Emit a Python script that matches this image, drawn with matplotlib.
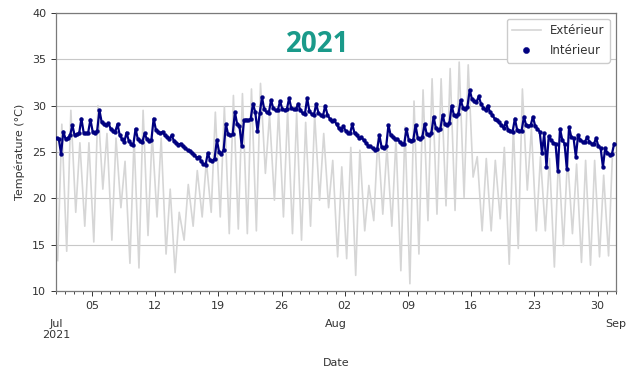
import matplotlib
matplotlib.use("Agg")
import matplotlib.pyplot as plt
import matplotlib.dates as mdates
import matplotlib.transforms as mtransforms
import numpy as np
import pandas as pd

# Days covered: 1 July -> 31 August 2021
days = pd.date_range("2021-07-01", periods=62, freq="D")

# Outdoor temperature: daily minimum (early morning) and maximum (afternoon), degC
ext_min = [13.3, 14.3, 18.5, 17.0, 15.3, 21.0, 15.5, 19.0, 13.0, 12.5,
           16.0, 18.0, 14.0, 12.0, 15.5, 17.0, 18.0, 18.5, 18.0, 16.2,
           16.7, 16.2, 16.5, 22.7, 19.8, 18.0, 16.2, 15.5, 17.0, 19.8,
           19.0, 13.7, 13.5, 11.7, 16.5, 17.6, 18.3, 17.0, 12.2, 10.8,
           14.0, 17.6, 18.3, 19.2, 18.7, 20.1, 22.3, 16.5, 16.5, 17.8,
           12.9, 14.6, 20.9, 16.5, 16.5, 12.6, 14.9, 16.2, 13.1, 12.8,
           13.7, 13.8]
ext_max = [28.0, 29.5, 26.0, 26.0, 30.0, 27.0, 26.5, 24.0, 26.5, 29.5,
           27.0, 26.5, 21.0, 18.5, 21.5, 23.0, 24.0, 29.3, 29.9, 31.1,
           31.3, 31.8, 32.4, 29.0, 29.5, 29.5, 29.2, 28.2, 29.0, 27.0,
           24.1, 23.4, 25.5, 25.2, 21.4, 26.6, 25.5, 26.4, 27.7, 30.5,
           31.7, 32.9, 32.9, 34.0, 34.7, 34.4, 24.5, 24.3, 24.1, 25.5,
           27.7, 31.8, 27.5, 24.5, 24.3, 24.5, 24.5, 23.7, 24.1, 24.1,
           22.5, 25.5]
ext_hours = [5, 16]

# Indoor temperature: four readings per day (02h, 08h, 14h, 20h), degC
int_vals = [
    [26.5, 26.4, 24.8, 27.2], [26.4, 26.5, 26.8, 27.9], [26.8, 26.9, 27.0, 28.6],
    [27.1, 27.0, 27.1, 28.5], [27.2, 27.1, 27.3, 29.5], [28.2, 28.0, 27.9, 28.1],
    [27.5, 27.3, 27.2, 28.0], [26.8, 26.4, 26.1, 27.1], [26.2, 25.9, 25.8, 27.5],
    [26.4, 26.2, 26.1, 27.0], [26.4, 26.2, 26.3, 28.6], [27.4, 27.2, 27.0, 27.2],
    [26.8, 26.6, 26.4, 26.8], [26.2, 26.0, 25.8, 25.9], [25.6, 25.4, 25.2, 25.1],
    [24.9, 24.7, 24.4, 24.5], [24.0, 23.7, 23.6, 24.9], [24.1, 24.0, 24.3, 26.3],
    [25.0, 24.8, 25.2, 28.0], [26.9, 26.8, 26.9, 29.3], [28.0, 27.8, 25.7, 28.4],
    [28.5, 28.4, 28.6, 30.2], [29.3, 27.3, 29.2, 30.9], [29.6, 29.3, 29.2, 30.6],
    [29.7, 29.5, 29.5, 30.5], [29.6, 29.5, 29.6, 30.8], [29.7, 29.6, 29.6, 30.2],
    [29.5, 29.2, 29.1, 30.8], [29.4, 29.1, 29.0, 30.2], [29.2, 29.0, 28.9, 30.0],
    [29.0, 28.6, 28.3, 28.4], [28.0, 27.6, 27.4, 27.8], [27.3, 27.1, 27.0, 28.0],
    [27.0, 26.8, 26.5, 26.6], [26.3, 26.0, 25.7, 25.6], [25.4, 25.2, 25.3, 26.8],
    [25.5, 25.4, 25.6, 27.9], [26.8, 26.6, 26.4, 26.4], [26.1, 25.9, 25.9, 27.5],
    [26.3, 26.2, 26.3, 27.9], [26.5, 26.4, 26.6, 28.0], [26.9, 26.8, 27.0, 28.8],
    [27.6, 27.4, 27.5, 29.0], [28.0, 27.9, 28.1, 30.0], [29.0, 28.9, 29.1, 30.6],
    [29.8, 29.6, 29.9, 31.7], [30.7, 30.5, 30.4, 31.0], [30.2, 29.8, 29.5, 30.0],
    [29.3, 29.0, 28.6, 28.4], [28.2, 27.9, 27.6, 28.2], [27.4, 27.3, 27.2, 28.6],
    [27.4, 27.3, 27.3, 28.8], [27.9, 27.8, 27.9, 28.8], [27.8, 27.5, 27.2, 24.9],
    [27.0, 23.4, 26.7, 26.3], [26.0, 25.9, 23.0, 27.5], [26.3, 25.9, 23.2, 27.7],
    [26.6, 26.5, 24.5, 26.8], [26.3, 26.1, 26.1, 26.6], [26.1, 25.9, 25.9, 26.5],
    [25.6, 25.4, 23.4, 25.4], [24.9, 24.7, 24.8, 25.9],
]
int_hours = [2, 8, 14, 20]

yticks = [10, 15, 20, 25, 30, 35, 40]
month_labels = [("2021-07-01", "Jul\n2021"), ("2021-08-01", "Aug"), ("2021-09-01", "Sep")]

# build time-indexed series
ext_time = [d + pd.Timedelta(hours=h) for d in days for h in ext_hours]
ext_temp = [v for pair in zip(ext_min, ext_max) for v in pair]
int_time = [d + pd.Timedelta(hours=h) for d in days for h in int_hours]
int_temp = [v for row in int_vals for v in row]

navy = "#000080"

fig = plt.figure(figsize=(6.27, 3.69), dpi=100)
ax = fig.add_axes([0.089, 0.211, 0.893, 0.754])

ax.plot(ext_time, ext_temp, color="#d6d6d6", lw=1.2, label="Extérieur", zorder=2)
# dense indoor readings merge into a thick dotted trace
ax.plot(int_time, int_temp, color=navy, lw=1.6, zorder=3)
ax.plot(int_time, int_temp, ls="none", marker="o", ms=2.8, mec=navy,
        mfc=navy, mew=0.3, label="Intérieur", zorder=4)

ax.set_xlim(pd.Timestamp("2021-07-01"), pd.Timestamp("2021-09-01"))
ax.set_ylim(10, 40)
ax.set_yticks(yticks)
ax.yaxis.grid(True, color="#c8c8c8", lw=0.8)
ax.set_axisbelow(True)

ax.xaxis.set_major_locator(mdates.WeekdayLocator(byweekday=mdates.MO))
ax.xaxis.set_major_formatter(mdates.DateFormatter("%d"))
ax.xaxis.set_minor_locator(mdates.DayLocator())
ax.tick_params(axis="both", labelsize=8, colors="#333333", length=3.5, width=0.7)
ax.tick_params(axis="x", which="minor", length=2, width=0.5)

for sp in ax.spines.values():
    sp.set_color("#7a7a7a")
    sp.set_linewidth(0.9)

trans = mtransforms.blended_transform_factory(ax.transData, ax.transAxes)
for date, lab in month_labels:
    ax.text(mdates.date2num(pd.Timestamp(date)), -0.1, lab, transform=trans,
            ha="center", va="top", fontsize=8, color="#333333", linespacing=1.1)

ax.set_ylabel("Température (°C)", fontsize=8, color="#333333", labelpad=5)
ax.set_xlabel("Date", fontsize=8, color="#333333", labelpad=34)

ax.text(0.468, 0.885, "2021", transform=ax.transAxes, ha="center", va="center",
        fontsize=20, fontweight="bold", color="#1a9a8a", family="Open Sans")

leg = ax.legend(loc="upper right", fontsize=8.5, markerscale=1.6, handlelength=2.4,
                borderpad=0.45, labelspacing=0.6, framealpha=1)
leg.get_frame().set_edgecolor("#cccccc")
for t in leg.get_texts():
    t.set_color("#333333")

fig.savefig("out.png", dpi=100)
